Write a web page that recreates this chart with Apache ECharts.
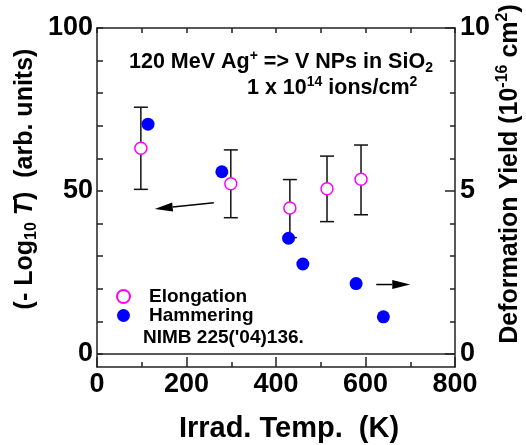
<!DOCTYPE html>
<html>
<head>
<meta charset="utf-8">
<script src="https://cdn.jsdelivr.net/npm/echarts@6/dist/echarts.min.js"></script>
<style>
html,body{margin:0;padding:0;background:#fff;}
#chart{width:526px;height:445px;}
</style>
</head>
<body>
<div id="chart"></div>
<script>
// ---- data ----
const elongTemps = [98, 299, 431, 514, 590];
const elongValues = [63.1, 52.2, 44.8, 50.7, 53.6];
const elongLow = [50.5, 41.8, 35.7, 40.6, 42.7];
const elongHigh = [75.7, 62.6, 53.5, 60.7, 64.1];
const hammerTemps = [114, 279, 428, 460, 579, 640];
const hammerValues = [7.05, 5.59, 3.55, 2.76, 2.16, 1.14];
const xTickLabels = [0, 200, 400, 600, 800];
const leftTickLabels = [0, 50, 100];
const leftTicks = [0, 10, 20, 30, 40, 50, 60, 70, 80, 90, 100];
const rightTickLabels = [0, 5, 10];
const rightTicks = [0, 1, 2, 3, 4, 5, 6, 7, 8, 9, 10];
// arrows (left-axis units): [xTail, yTail, xTip, yTip]
const arrowLeft = [261, 46.4, 129, 44.5];
const arrowRight = [624, 21.3, 700, 21.3];

const FF = "'Liberation Sans', Arial, sans-serif";
const AX = '#222';

const chart = echarts.init(document.getElementById('chart'), null, {renderer: 'canvas'});

const option = {
  animation: false,
  backgroundColor: '#fff',
  grid: {left: 97, right: 71, top: 28, bottom: 78},
  xAxis: [
    {
      type: 'value', min: 0, max: 800, interval: 200, position: 'bottom',
      axisLine: {show: true, onZero: false, lineStyle: {color: AX, width: 1.5}},
      axisTick: {show: true, inside: true, length: 10, lineStyle: {color: AX, width: 1.5}},
      minorTick: {show: true, splitNumber: 2, length: 5, lineStyle: {color: AX, width: 1.5}},
      axisLabel: {show: true, fontSize: 27, fontWeight: 'bold', fontFamily: FF, color: '#000', margin: 4,
        customValues: xTickLabels},
      splitLine: {show: false}
    },
    {
      type: 'value', min: 0, max: 800, interval: 100, position: 'top',
      axisLine: {show: true, onZero: false, lineStyle: {color: AX, width: 1.5}},
      axisTick: {show: true, inside: true, length: 5, lineStyle: {color: AX, width: 1.5}},
      axisLabel: {show: false},
      splitLine: {show: false}
    }
  ],
  yAxis: [
    {
      type: 'value', min: -4, max: 100, position: 'left',
      axisLine: {show: true, onZero: false, lineStyle: {color: AX, width: 1.5}},
      axisTick: {show: true, inside: true, length: 6, customValues: leftTicks, lineStyle: {color: AX, width: 1.5}},
      axisLabel: {show: true, customValues: leftTickLabels, fontSize: 27, fontWeight: 'bold', fontFamily: FF, color: '#000', margin: 4},
      splitLine: {show: false}
    },
    {
      type: 'value', min: -0.4, max: 10, position: 'right',
      axisLine: {show: true, onZero: false, lineStyle: {color: AX, width: 1.5}},
      axisTick: {show: true, inside: true, length: 5, customValues: rightTicks, lineStyle: {color: AX, width: 1.5}},
      axisLabel: {show: true, customValues: rightTickLabels, fontSize: 27, fontWeight: 'bold', fontFamily: FF, color: '#000', margin: 5},
      splitLine: {show: false}
    },
    {
      type: 'value', min: -0.4, max: 10, position: 'right',
      axisLine: {show: false, onZero: false},
      axisTick: {show: true, inside: true, length: 10, customValues: rightTickLabels, lineStyle: {color: AX, width: 1.5}},
      axisLabel: {show: false},
      splitLine: {show: false}
    }
  ],
  legend: {
    orient: 'vertical', left: 116, top: 287, itemWidth: 13, itemHeight: 13, itemGap: 0, padding: 0,
    textStyle: {fontSize: 19, fontWeight: 'bold', fontFamily: FF, color: '#000', padding: [0, 0, 0, 14]},
    data: ['Elongation', 'Hammering']
  },
  series: [
    {
      name: 'errbars', type: 'custom', xAxisIndex: 0, yAxisIndex: 0, z: 1,
      data: elongTemps.map((t, i) => [t, elongLow[i], elongHigh[i]]),
      encode: {x: 0, y: [1, 2]},
      renderItem: function (params, api) {
        const x = api.value(0);
        const pLo = api.coord([x, api.value(1)]);
        const pHi = api.coord([x, api.value(2)]);
        const hw = 7;
        const st = {stroke: '#111', lineWidth: 1.5};
        return {type: 'group', children: [
          {type: 'line', shape: {x1: pHi[0], y1: pHi[1], x2: pLo[0], y2: pLo[1]}, style: st},
          {type: 'line', shape: {x1: pHi[0] - hw, y1: pHi[1], x2: pHi[0] + hw, y2: pHi[1]}, style: st},
          {type: 'line', shape: {x1: pLo[0] - hw, y1: pLo[1], x2: pLo[0] + hw, y2: pLo[1]}, style: st}
        ]};
      },
      markLine: {
        silent: true, symbol: ['none', 'none'], label: {show: false},
        lineStyle: {color: AX, width: 1.5, type: 'solid'},
        data: [{yAxis: 0}]
      }
    },
    {
      name: 'arrows', type: 'custom', xAxisIndex: 0, yAxisIndex: 0, z: 1,
      data: [arrowLeft, arrowRight],
      encode: {x: [0, 2], y: [1, 3]},
      renderItem: function (params, api) {
        const a = api.coord([api.value(0), api.value(1)]);
        const b = api.coord([api.value(2), api.value(3)]);
        const dx = b[0] - a[0], dy = b[1] - a[1];
        const len = Math.sqrt(dx * dx + dy * dy);
        const ux = dx / len, uy = dy / len;
        const hl = 18, hw = 4.5;
        const bx = b[0] - ux * hl, by = b[1] - uy * hl;
        return {type: 'group', children: [
          {type: 'line', shape: {x1: a[0], y1: a[1], x2: bx, y2: by}, style: {stroke: '#000', lineWidth: 1.5}},
          {type: 'polygon', shape: {points: [[b[0], b[1]], [bx - uy * hw, by + ux * hw], [bx + uy * hw, by - ux * hw]]}, style: {fill: '#000'}}
        ]};
      }
    },
    {
      name: 'Elongation', type: 'scatter', xAxisIndex: 0, yAxisIndex: 0, z: 3,
      symbol: 'circle', symbolSize: 12,
      itemStyle: {color: '#fff', borderColor: '#ff00ff', borderWidth: 1.5, opacity: 1},
      data: elongTemps.map((t, i) => [t, elongValues[i]])
    },
    {
      name: 'Hammering', type: 'scatter', xAxisIndex: 0, yAxisIndex: 1, z: 3,
      symbol: 'circle', symbolSize: 13,
      itemStyle: {color: '#0000ff', opacity: 1},
      data: hammerTemps.map((t, i) => [t, hammerValues[i]])
    }
  ],
  graphic: [
    {
      type: 'text', x: 289, y: 429,
      style: {text: 'Irrad. Temp.  (K)', font: 'bold 29px ' + FF, fill: '#000', align: 'center', verticalAlign: 'middle'}
    },
    {
      type: 'text', x: 25, y: 179, rotation: Math.PI / 2,
      style: {
        text: '{a|(- Log}{s|10}{a| }{i|T}{a|)  (arb. units)}',
        align: 'center', verticalAlign: 'middle', fill: '#000',
        rich: {
          a: {fontSize: 25, fontWeight: 'bold', fontFamily: FF, fill: '#000', lineHeight: 30, verticalAlign: 'middle'},
          s: {fontSize: 16, fontWeight: 'bold', fontFamily: FF, fill: '#000', lineHeight: 15, verticalAlign: 'bottom'},
          i: {fontSize: 25, fontWeight: 'bold', fontStyle: 'italic', fontFamily: FF, fill: '#000', lineHeight: 30, verticalAlign: 'middle'}
        }
      }
    },
    {
      type: 'text', x: 510, y: 174, rotation: Math.PI / 2,
      style: {
        text: '{a|Deformation Yield (10}{p|-16}{a| cm}{p|2}{a|)}',
        align: 'center', verticalAlign: 'middle', fill: '#000',
        rich: {
          a: {fontSize: 25, fontWeight: 'bold', fontFamily: FF, fill: '#000', lineHeight: 30, verticalAlign: 'middle'},
          p: {fontSize: 16, fontWeight: 'bold', fontFamily: FF, fill: '#000', lineHeight: 15, verticalAlign: 'top'}
        }
      }
    },
    {
      type: 'text', x: 129, y: 62,
      style: {
        text: '{a|120 MeV Ag}{p|+}{a| => V NPs in SiO}{s|2}',
        align: 'left', verticalAlign: 'middle', fill: '#000',
        rich: {
          a: {fontSize: 21.5, fontWeight: 'bold', fontFamily: FF, fill: '#000', lineHeight: 26, verticalAlign: 'middle'},
          p: {fontSize: 14, fontWeight: 'bold', fontFamily: FF, fill: '#000', lineHeight: 12, verticalAlign: 'top'},
          s: {fontSize: 14, fontWeight: 'bold', fontFamily: FF, fill: '#000', lineHeight: 12, verticalAlign: 'bottom'}
        }
      }
    },
    {
      type: 'text', x: 247, y: 88,
      style: {
        text: '{a|1 x 10}{p|14}{a| ions/cm}{p|2}',
        align: 'left', verticalAlign: 'middle', fill: '#000',
        rich: {
          a: {fontSize: 21.5, fontWeight: 'bold', fontFamily: FF, fill: '#000', lineHeight: 26, verticalAlign: 'middle'},
          p: {fontSize: 14, fontWeight: 'bold', fontFamily: FF, fill: '#000', lineHeight: 12, verticalAlign: 'top'}
        }
      }
    },
    {
      type: 'text', x: 143, y: 338,
      style: {text: "NIMB 225('04)136.", font: 'bold 19px ' + FF, fill: '#000', align: 'left', verticalAlign: 'middle'}
    }
  ]
};
chart.setOption(option);
</script>
</body>
</html>
